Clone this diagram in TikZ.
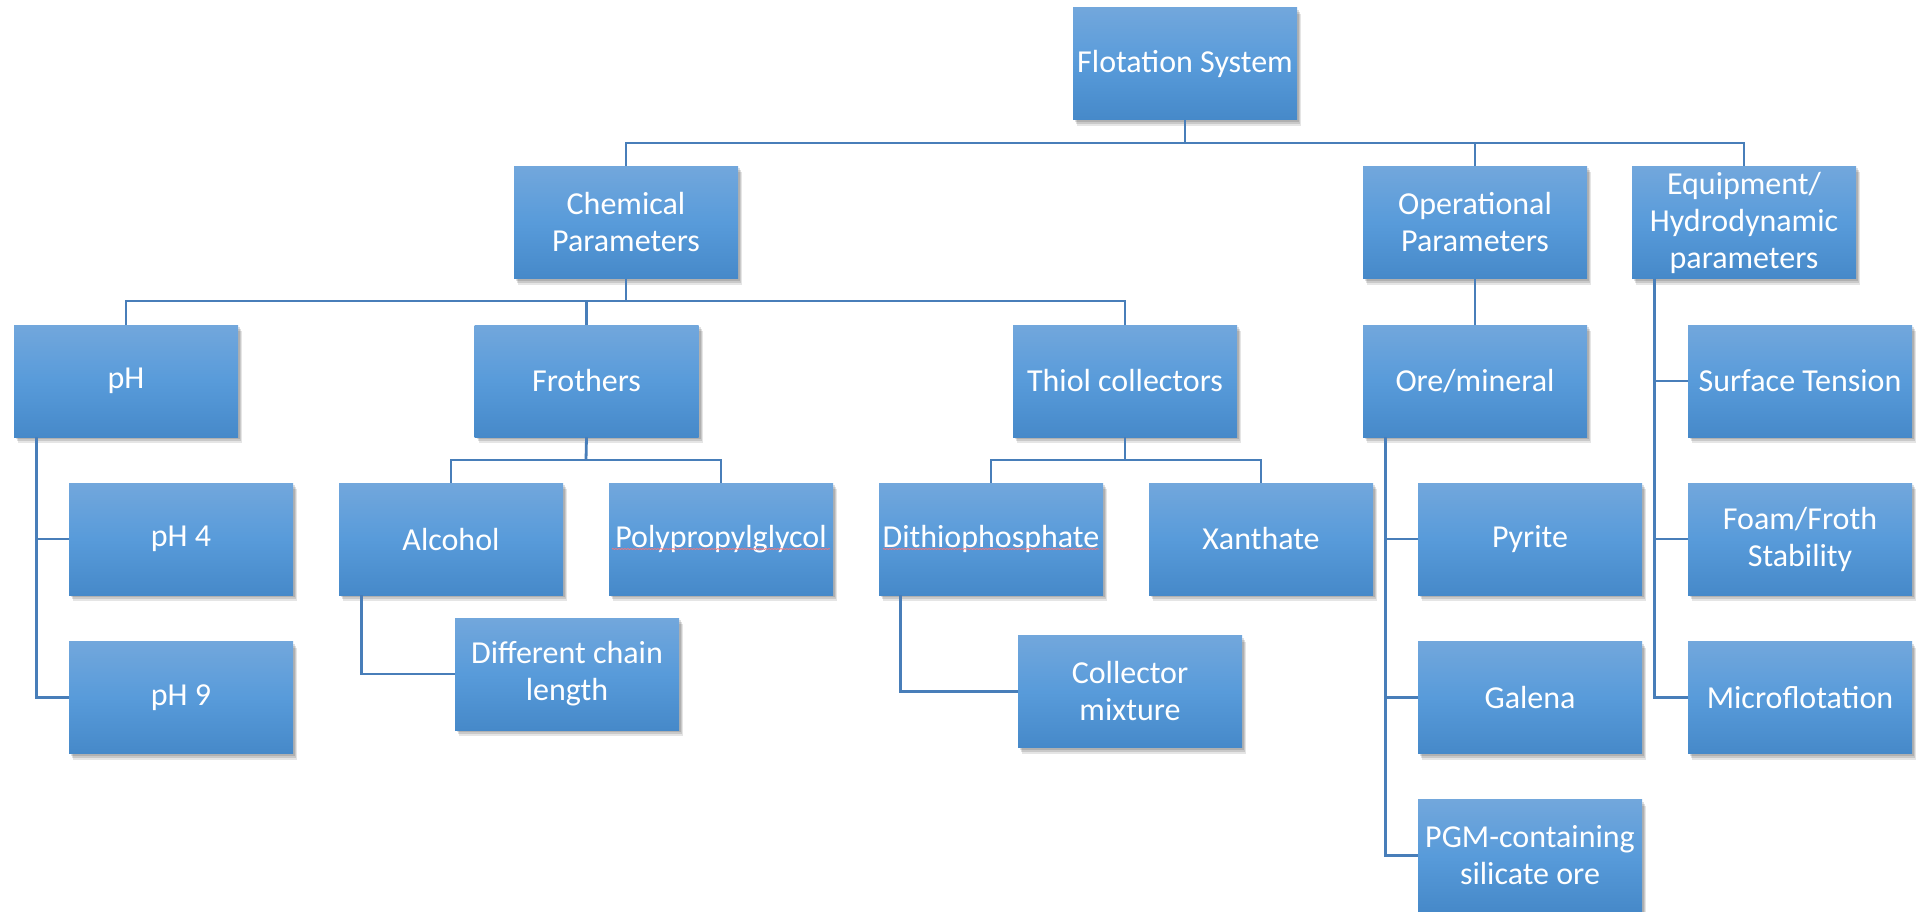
\documentclass[tikz,border=0pt]{standalone}
\usepackage{fontspec}
\setmainfont{Carlito}
\usetikzlibrary{shadows,decorations.pathmorphing}
\definecolor{boxtop}{RGB}{114,167,220}
\definecolor{boxmid}{RGB}{88,155,218}
\definecolor{boxbot}{RGB}{70,137,201}
\definecolor{connc}{RGB}{72,126,185}
\begin{document}
\begin{tikzpicture}[x=1pt,y=-1pt,
  box/.style={rectangle, minimum width=224pt, minimum height=112pt, inner sep=0pt,
    top color=boxtop, bottom color=boxbot, middle color=boxmid, text=white, align=center,
    font=\fontsize{32}{37}\selectfont,
    general shadow={shadow xshift=2pt, shadow yshift=-2pt, opacity=0.12, fill=black},
    general shadow={shadow xshift=3pt, shadow yshift=-4pt, opacity=0.12, fill=black},
    general shadow={shadow xshift=4pt, shadow yshift=-6pt, opacity=0.10, fill=black}},
  link/.style={draw=connc, line width=2.8pt},
  spell/.style={draw=red!55, line width=0.7pt, decorate, decoration={snake, amplitude=0.5pt, segment length=3pt}}]
\fill[white] (0,0) rectangle (1919,912);
\useasboundingbox (0,0) rectangle (1919,912);

\coordinate (busA) at (1185,143);
\coordinate (busB) at (626,301);
\coordinate (busC) at (586,460);
\coordinate (busD) at (1125,460);

\node[box] (fs) at (1185,64) {Flotation System};
\node[box] (chem) at (626,222.5) {Chemical\\Parameters};
\node[box] (oper) at (1475,222.5) {Operational\\Parameters};
\node[box] (equip) at (1744,222.5) {Equipment/\\Hydrodynamic\\parameters};

\node[box] (ph) at (126,381) {pH};
\node[box] (froth) at (586.5,381) {Frothers};
\node[box] (thiol) at (1125,381) {Thiol collectors};
\node[box] (ore) at (1475,381) {Ore/mineral};
\node[box] (surf) at (1800,381) {Surface Tension};

\node[box] (ph4) at (181,539) {pH 4};
\node[box] (alc) at (451,539) {Alcohol};
\node[box] (poly) at (721,539) {Polypropylglycol};
\node[box] (dithio) at (991,539) {Dithiophosphate};
\node[box] (xan) at (1261,539) {Xanthate};
\node[box] (pyr) at (1530,539) {Pyrite};
\node[box] (foam) at (1800,539) {Foam/Froth\\Stability};

\node[box] (diff) at (567,674) {Different chain\\length};
\node[box] (cmix) at (1130,691.5) {Collector\\mixture};
\node[box] (ph9) at (181,697.5) {pH 9};
\node[box] (gal) at (1530,697.5) {Galena};
\node[box] (micro) at (1800,697.5) {Microflotation};

\node[box] (pgm) at (1530,855.5) {PGM-containing\\silicate ore};

\draw[link] (fs.south) -- (busA);
\draw[link] (busA) -| (chem.north);
\draw[link] (busA) -| (oper.north);
\draw[link] (busA) -| (equip.north);

\draw[link] (chem.south) -- (busB);
\draw[link] (busB) -| (ph.north);
\draw[link] (busB) -| (froth.north);
\draw[link] (busB) -| (thiol.north);

\draw[link] (froth.south) -- (busC);
\draw[link] (busC) -| (alc.north);
\draw[link] (busC) -| (poly.north);

\draw[link] (thiol.south) -- (busD);
\draw[link] (busD) -| (dithio.north);
\draw[link] (busD) -| (xan.north);

\draw[link] (oper.south) -- (ore.north);

\draw[link] ([xshift=23pt]ph.south west) |- (ph4.west);
\draw[link] ([xshift=23pt]ph.south west) |- (ph9.west);
\draw[link] ([xshift=23pt]alc.south west) |- (diff.west);
\draw[link] ([xshift=22pt]dithio.south west) |- (cmix.west);
\draw[link] ([xshift=23pt]ore.south west) |- (pyr.west);
\draw[link] ([xshift=23pt]ore.south west) |- (gal.west);
\draw[link] ([xshift=23pt]ore.south west) |- (pgm.west);
\draw[link] ([xshift=23pt]equip.south west) |- (surf.west);
\draw[link] ([xshift=23pt]equip.south west) |- (foam.west);
\draw[link] ([xshift=23pt]equip.south west) |- (micro.west);

\draw[spell] ([xshift=-109pt,yshift=-10pt]poly.center) -- ([xshift=109pt,yshift=-10pt]poly.center);
\draw[spell] ([xshift=-108pt,yshift=-10pt]dithio.center) -- ([xshift=108pt,yshift=-10pt]dithio.center);
\end{tikzpicture}
\end{document}
